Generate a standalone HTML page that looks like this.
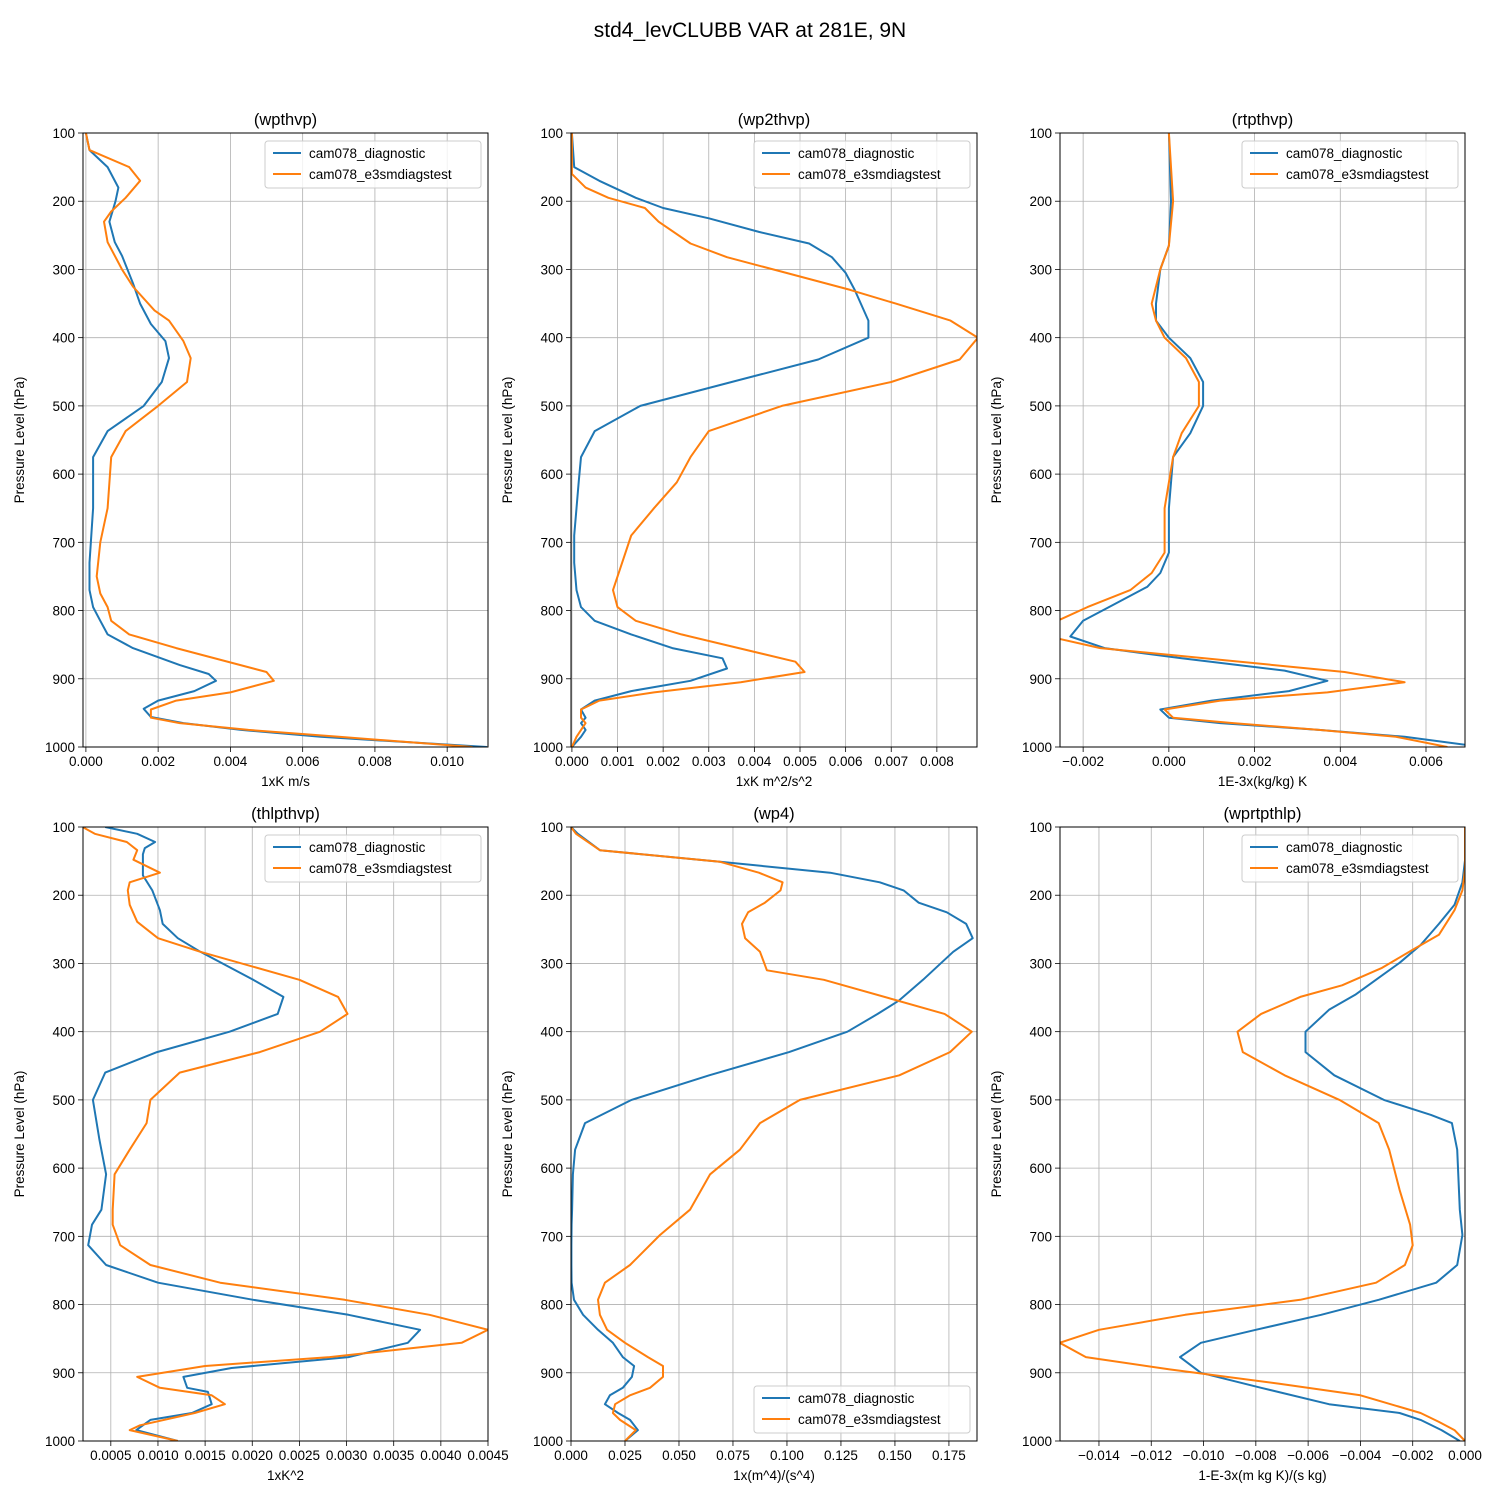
<!DOCTYPE html>
<html><head><meta charset="utf-8">
<style>
html,body{margin:0;padding:0;background:#fff;}
svg{display:block;font-family:"Liberation Sans","DejaVu Sans",sans-serif;}
</style></head>
<body>
<svg id="chart" width="1500" height="1500" xmlns="http://www.w3.org/2000/svg">
<rect width="1500" height="1500" fill="#fff"/>
<text x="750" y="37" font-size="21" text-anchor="middle">std4_levCLUBB VAR at 281E, 9N</text>
</svg>
<script>
// ---- data (pressure in hPa, values in panel units) ----
const p1BlueP = [100,125,150,180,200,230,260,280,320,350,380,405,430,465,500,537,575,610,650,690,730,770,795,815,835,855,880,893,903,918,932,944,956,965,975,985,1000];
const p1BlueV = [0,0.0001,0.0006,0.0009,0.00082,0.00065,0.0008,0.001,0.0013,0.0015,0.0018,0.0022,0.0023,0.0021,0.0016,0.0006,0.0002,0.0002,0.0002,0.00015,0.0001,0.0001,0.0002,0.0004,0.0006,0.0013,0.0026,0.0034,0.0036,0.003,0.002,0.0016,0.0018,0.0027,0.0043,0.0065,0.0111];
const p1OrangeP = [100,125,150,170,195,215,230,260,300,325,360,375,405,430,465,500,537,575,650,700,750,775,795,815,835,855,890,903,920,932,945,957,965,975,985,1000];
const p1OrangeV = [0,0.0001,0.0012,0.0015,0.0011,0.0007,0.0005,0.0006,0.001,0.0013,0.0019,0.0023,0.0027,0.0029,0.0028,0.002,0.0011,0.0007,0.0006,0.0004,0.0003,0.0004,0.0006,0.0007,0.0012,0.0025,0.005,0.0052,0.004,0.0025,0.0018,0.0018,0.0026,0.0045,0.007,0.0107];

const p2BlueP = [100,150,170,195,210,225,245,262,282,305,330,375,400,432,465,500,537,575,610,650,690,730,770,795,815,835,855,870,885,903,918,932,945,957,965,975,985,1000];
const p2BlueV = [0,0.00005,0.0006,0.0014,0.002,0.003,0.0041,0.0052,0.0057,0.006,0.0062,0.0065,0.0065,0.0054,0.0035,0.0015,0.0005,0.0002,0.00015,0.0001,0.00005,0.00005,0.0001,0.0002,0.0005,0.0013,0.0022,0.0033,0.0034,0.0026,0.0013,0.0005,0.0002,0.0003,0.0002,0.0003,0.0002,0];
const p2OrangeP = [100,140,160,180,195,210,230,262,282,305,330,350,375,400,432,465,500,537,575,612,650,690,730,770,795,815,835,875,890,905,920,932,945,957,965,985,1000];
const p2OrangeV = [0,0,0,0.0003,0.0008,0.0016,0.0019,0.0026,0.0034,0.0047,0.0061,0.0071,0.0083,0.0089,0.0085,0.007,0.0046,0.003,0.0026,0.0023,0.0018,0.0013,0.0011,0.0009,0.001,0.0014,0.0024,0.0049,0.0051,0.0037,0.0018,0.0006,0.0002,0.0002,0.0003,0.0001,0];

const p3BlueP = [100,200,265,300,350,375,400,430,465,500,540,575,650,715,745,765,795,815,838,855,870,888,903,918,932,945,957,965,975,985,1000];
const p3BlueV = [0,0.00005,0,-0.0002,-0.0003,-0.0003,0,0.0005,0.0008,0.0008,0.0005,0.0001,0,0,-0.0002,-0.0005,-0.0014,-0.002,-0.0023,-0.0015,0.0003,0.0027,0.0037,0.0028,0.001,-0.0002,0,0.0012,0.0035,0.0055,0.0073];
const p3OrangeP = [100,200,265,300,350,375,400,430,465,500,540,575,650,715,745,770,795,815,838,855,890,905,920,932,945,957,965,975,985,1000];
const p3OrangeV = [0,0.0001,0,-0.0002,-0.0004,-0.0003,-0.0001,0.0004,0.0007,0.0007,0.0003,0.0001,-0.0001,-0.0001,-0.0004,-0.0009,-0.0019,-0.0026,-0.0028,-0.0016,0.0041,0.0055,0.0037,0.0012,-0.0001,0.0001,0.0015,0.0035,0.0053,0.0065];

const p4BlueP = [100,110,122,131,140,171,193,222,242,263,283,324,349,374,400,430,460,500,559,609,661,683,713,742,768,793,815,837,856,877,893,906,922,928,946,959,969,984,1000];
const p4BlueV = [0.00044,0.00078,0.00097,0.00086,0.00084,0.00084,0.00094,0.00102,0.00105,0.00121,0.00145,0.00201,0.00233,0.00227,0.00176,0.00099,0.00044,0.00031,0.00038,0.00045,0.0004,0.0003,0.00026,0.00045,0.001,0.00201,0.00302,0.00378,0.00365,0.00302,0.00178,0.00127,0.00131,0.00153,0.00157,0.00136,0.00092,0.00077,0.00121];
const p4OrangeP = [100,110,122,134,148,167,181,193,214,239,263,283,324,349,374,400,430,460,500,534,573,609,661,683,713,742,768,793,815,837,856,877,890,906,922,933,946,959,977,984,1000];
const p4OrangeV = [0.0002,0.00033,0.00067,0.00078,0.00074,0.00102,0.0007,0.00068,0.0007,0.00078,0.001,0.00145,0.0025,0.00291,0.00301,0.00272,0.00208,0.00123,0.00092,0.00088,0.0007,0.00054,0.00052,0.00052,0.0006,0.00092,0.00166,0.00298,0.00388,0.0045,0.00422,0.00282,0.0015,0.00078,0.00102,0.00157,0.00171,0.00139,0.00081,0.0007,0.00121];

const p5BlueP = [100,110,134,151,167,181,193,211,225,242,263,283,324,354,374,400,430,464,500,534,573,609,661,683,713,742,768,793,815,837,856,877,890,906,922,933,946,959,969,984,1000];
const p5BlueV = [0,0.0032,0.0134,0.069,0.12,0.143,0.154,0.161,0.174,0.183,0.186,0.177,0.163,0.152,0.142,0.128,0.101,0.064,0.028,0.0065,0.0019,0.0009,0.0005,0.0003,0.0002,0.0002,0.0003,0.0014,0.0056,0.0125,0.0194,0.024,0.0292,0.0282,0.024,0.018,0.0157,0.0218,0.0273,0.031,0.025];
const p5OrangeP = [100,110,134,151,167,181,193,211,225,242,263,283,310,324,374,400,430,464,500,534,573,609,661,698,742,768,793,815,837,856,877,890,906,922,933,946,959,969,984,1000];
const p5OrangeV = [0,0.0023,0.0134,0.069,0.087,0.098,0.097,0.0898,0.082,0.0792,0.0806,0.0875,0.0907,0.1171,0.173,0.1856,0.1755,0.152,0.106,0.0875,0.0782,0.0644,0.0551,0.0412,0.0273,0.0157,0.0125,0.0134,0.0167,0.025,0.0356,0.0426,0.0426,0.0366,0.0273,0.0204,0.0194,0.0227,0.03,0.025];

const p6BlueP = [100,149,181,214,242,273,299,321,346,368,400,430,464,500,522,534,573,661,698,742,768,793,815,837,856,877,900,922,946,959,969,984,1000];
const p6BlueV = [0,0,-0.0001,-0.0004,-0.001,-0.0017,-0.0025,-0.0033,-0.0042,-0.0052,-0.0061,-0.0061,-0.005,-0.0031,-0.0013,-0.0005,-0.0003,-0.0002,-0.0001,-0.0003,-0.0011,-0.0033,-0.0055,-0.008,-0.0101,-0.0109,-0.0101,-0.0078,-0.0052,-0.0025,-0.0017,-0.0009,-0.0002];
const p6OrangeP = [100,163,193,222,258,280,307,332,349,374,400,430,464,500,534,573,632,683,713,742,768,793,815,837,856,877,895,916,933,959,972,984,1000];
const p6OrangeV = [0,0,-0.0001,-0.0004,-0.001,-0.002,-0.0032,-0.0047,-0.0063,-0.0078,-0.0087,-0.0085,-0.0069,-0.0048,-0.0033,-0.0029,-0.0025,-0.0021,-0.002,-0.0023,-0.0034,-0.0063,-0.0107,-0.014,-0.0155,-0.0145,-0.0113,-0.0071,-0.004,-0.0017,-0.001,-0.0004,0];

const p1Ticks = [0,0.002,0.004,0.006,0.008,0.010];
const p2Ticks = [0,0.001,0.002,0.003,0.004,0.005,0.006,0.007,0.008];
const p3Ticks = [-0.002,0,0.002,0.004,0.006];
const p4Ticks = [0.0005,0.0010,0.0015,0.0020,0.0025,0.0030,0.0035,0.0040,0.0045];
const p5Ticks = [0,0.025,0.05,0.075,0.1,0.125,0.15,0.175];
const p6Ticks = [-0.014,-0.012,-0.010,-0.008,-0.006,-0.004,-0.002,0];
const yTicks = [100,200,300,400,500,600,700,800,900,1000];
const seriesNames = ["cam078_diagnostic","cam078_e3smdiagstest"];

const panels = [
 {name:"wpthvp",x0:83,x1:488,y0:133,y1:747,xmin:-0.00008,xmax:0.01113,ticks:p1Ticks,dec:3,xlabel:"1xK m/s",b:[p1BlueP,p1BlueV],o:[p1OrangeP,p1OrangeV],leg:"tr"},
 {name:"wp2thvp",x0:571,x1:977,y0:133,y1:747,xmin:-0.00002,xmax:0.00888,ticks:p2Ticks,dec:3,xlabel:"1xK m^2/s^2",b:[p2BlueP,p2BlueV],o:[p2OrangeP,p2OrangeV],leg:"tr"},
 {name:"rtpthvp",x0:1060,x1:1465,y0:133,y1:747,xmin:-0.00254,xmax:0.00691,ticks:p3Ticks,dec:3,xlabel:"1E-3x(kg/kg) K",b:[p3BlueP,p3BlueV],o:[p3OrangeP,p3OrangeV],leg:"tr"},
 {name:"thlpthvp",x0:83,x1:488,y0:827,y1:1441,xmin:0.000205,xmax:0.0045,ticks:p4Ticks,dec:4,xlabel:"1xK^2",b:[p4BlueP,p4BlueV],o:[p4OrangeP,p4OrangeV],leg:"tr"},
 {name:"wp4",x0:571,x1:977,y0:827,y1:1441,xmin:0,xmax:0.188,ticks:p5Ticks,dec:3,xlabel:"1x(m^4)/(s^4)",b:[p5BlueP,p5BlueV],o:[p5OrangeP,p5OrangeV],leg:"br"},
 {name:"wprtpthlp",x0:1060,x1:1465,y0:827,y1:1441,xmin:-0.01549,xmax:0,ticks:p6Ticks,dec:3,xlabel:"1-E-3x(m kg K)/(s kg)",b:[p6BlueP,p6BlueV],o:[p6OrangeP,p6OrangeV],leg:"tr"}
];
const NS="http://www.w3.org/2000/svg";
const svg=document.getElementById('chart');
function mk(tag,attrs,parent){const e=document.createElementNS(NS,tag);for(const k in attrs)e.setAttribute(k,attrs[k]);(parent||svg).appendChild(e);return e;}
function fmt(v,d){let s=Math.abs(v)<1e-12?(0).toFixed(d):v.toFixed(d);if(s[0]==='-')s='\u2212'+s.slice(1);return s;}

panels.forEach(P=>{
  const g=mk('g',{});
  
  
  const xs=v=>P.x0+(v-P.xmin)/(P.xmax-P.xmin)*(P.x1-P.x0);
  const ys=p=>P.y0+(p-100)/900*(P.y1-P.y0);
  P.ticks.forEach(t=>{
    const x=xs(t);
    const gl=mk('line',{x1:x,x2:x,y1:P.y0,y2:P.y1,stroke:'#b0b0b0','stroke-width':0.8},g);
    
    
    mk('line',{x1:x,x2:x,y1:P.y1,y2:P.y1+5,stroke:'#000','stroke-width':0.8},g);
    const tx=mk('text',{x:x,y:P.y1+19,'font-size':13.5,'text-anchor':'middle'},g);
    tx.textContent=fmt(t,P.dec);
    
    
  });
  yTicks.forEach(t=>{
    const y=ys(t);
    const gl=mk('line',{x1:P.x0,x2:P.x1,y1:y,y2:y,stroke:'#b0b0b0','stroke-width':0.8},g);
    
    
    mk('line',{x1:P.x0-5,x2:P.x0,y1:y,y2:y,stroke:'#000','stroke-width':0.8},g);
    const tx=mk('text',{x:P.x0-8,y:y+5,'font-size':13.5,'text-anchor':'end'},g);
    tx.textContent=String(t);
    
    
  });
  const cid='clip-'+P.name;
  const cp=mk('clipPath',{id:cid},g);
  mk('rect',{x:P.x0,y:P.y0,width:P.x1-P.x0,height:P.y1-P.y0},cp);
  [[P.b,'#1f77b4','blue'],[P.o,'#ff7f0e','orange']].forEach(([s,c,n])=>{
    const d=s[0].map((p,i)=>(i?'L':'M')+xs(s[1][i]).toFixed(1)+','+ys(p).toFixed(1)).join('');
    const pa=mk('path',{d:d,fill:'none',stroke:c,'stroke-width':2,'stroke-linejoin':'round','clip-path':'url(#'+cid+')'},g);
    
    
  });
  const fr=mk('rect',{x:P.x0,y:P.y0,width:P.x1-P.x0,height:P.y1-P.y0,fill:'none',stroke:'#000','stroke-width':1},g);
  
  
  const ti=mk('text',{x:(P.x0+P.x1)/2,y:P.y0-8,'font-size':16.5,'text-anchor':'middle'},g);
  ti.textContent='('+P.name+')';
  
  
  const xl=mk('text',{x:(P.x0+P.x1)/2,y:P.y1+39,'font-size':13.5,'text-anchor':'middle'},g);
  xl.textContent=P.xlabel;
  
  
  const cy=(P.y0+P.y1)/2;
  const yl=mk('text',{x:P.x0-59,y:cy,'font-size':13.5,'text-anchor':'middle',transform:'rotate(-90 '+(P.x0-59)+' '+cy+')'},g);
  yl.textContent='Pressure Level (hPa)';
  
  
  const lw=216,lh=47;
  const lx=P.x1-7-lw, ly=P.leg==='tr'?P.y0+8:P.y1-8-lh;
  const lg=mk('g',{},g);
  
  
  mk('rect',{x:lx,y:ly,width:lw,height:lh,rx:3,fill:'#fff','fill-opacity':0.8,stroke:'#ccc'},lg);
  seriesNames.forEach((nm,i)=>{
    const yy=ly+12+i*21;
    const c=i?'#ff7f0e':'#1f77b4';
    mk('line',{x1:lx+8,x2:lx+36,y1:yy,y2:yy,stroke:c,'stroke-width':2},lg);
    const t=mk('text',{x:lx+44,y:yy+5,'font-size':13.5},lg);
    t.textContent=nm;
    
    
  });
});
</script>
</body></html>
